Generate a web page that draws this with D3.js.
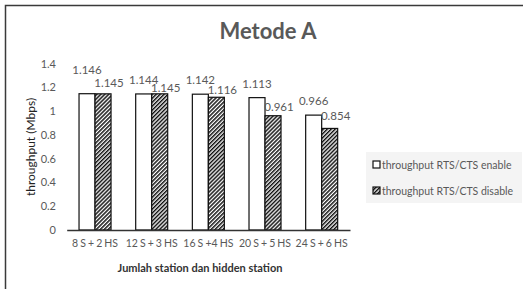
<!DOCTYPE html>
<html><head><meta charset="utf-8">
<script src="https://cdn.jsdelivr.net/npm/d3@7"></script>
<style>
html,body{margin:0;padding:0;background:#fff;}
svg{display:block;font-family:Lato,"Open Sans",sans-serif;}
</style></head>
<body><svg id="c" width="523" height="289"></svg>
<script>
const categories = ["8 S + 2 HS","12 S + 3 HS","16 S +4 HS","20 S + 5 HS","24 S + 6 HS"];
const enableValues = [1.146, 1.144, 1.142, 1.113, 0.966];
const disableValues = [1.145, 1.145, 1.116, 0.961, 0.854];
const seriesNames = ["throughput RTS/CTS enable","throughput RTS/CTS disable"];
const yTicks = [0,0.2,0.4,0.6,0.8,1,1.2,1.4];
const yTickLabels = ["0","0.2","0.4","0.6","0.8","1","1.2","1.4"];

const svg = d3.select("#c");
const grey = "#595959";

// outer frame
svg.append("rect").attr("x",5.5).attr("y",5.5).attr("width",600).attr("height",400)
  .attr("fill","#fff").attr("stroke","#3a3a3a").attr("stroke-width",1.5);

const defs = svg.append("defs");
const pat = defs.append("pattern").attr("id","hatch").attr("patternUnits","userSpaceOnUse")
  .attr("width",2.8).attr("height",2.8).attr("patternTransform","rotate(45)");
pat.append("rect").attr("width",2.8).attr("height",2.8).attr("fill","#fff");
pat.append("rect").attr("width",1.5).attr("height",2.8).attr("fill","#111");

const x0 = 66.7, x1 = 350, yTop = 63.5, yBot = 230;
const x = d3.scaleBand().domain(categories).range([x0,x1]).paddingInner(0).paddingOuter(0);
const y = d3.scaleLinear().domain([0,1.4]).range([yBot,yTop]);
const barW = 16;

// title
svg.append("text").attr("x",268).attr("y",39).attr("text-anchor","middle")
  .attr("font-size",22).attr("font-weight","bold").attr("fill",grey).text("Metode A");

// y axis labels
const yAxis = d3.axisLeft(y).tickValues(yTicks).tickFormat((d,i)=>yTickLabels[i]).tickSize(0).tickPadding(0);
const ga = svg.append("g").attr("transform","translate(56,0)").call(yAxis);
ga.select(".domain").remove();
ga.selectAll("text").attr("font-size",11).attr("fill",grey).attr("font-family","Lato,'Open Sans',sans-serif");

// y title
svg.append("text").attr("transform","translate(35,147) rotate(-90)").attr("text-anchor","middle")
  .attr("font-size",12).attr("fill","#222").text("throughput (Mbps)");

// bars
const groups = svg.append("g").selectAll("g").data(categories).join("g");
groups.append("rect")
  .attr("x",(d,i)=>x(d)+x.bandwidth()/2-barW).attr("y",(d,i)=>y(enableValues[i]))
  .attr("width",barW).attr("height",(d,i)=>yBot-y(enableValues[i]))
  .attr("fill","#fff").attr("stroke","#111").attr("stroke-width",1.2);
groups.append("rect")
  .attr("x",(d,i)=>x(d)+x.bandwidth()/2).attr("y",(d,i)=>y(disableValues[i]))
  .attr("width",barW).attr("height",(d,i)=>yBot-y(disableValues[i]))
  .attr("fill","url(#hatch)").attr("stroke","#111").attr("stroke-width",1.2);

// x axis
const xAxis = d3.axisBottom(x).tickSize(0).tickPadding(0);
const gx = svg.append("g").attr("transform",`translate(0,${yBot})`).call(xAxis);
gx.select(".domain").attr("stroke","#333").attr("stroke-width",1.3);
gx.selectAll("text").attr("font-size",10.5).attr("fill",grey).attr("dy","17px")
  .attr("word-spacing","-0.6px")
  .attr("font-family","Lato,'Open Sans',sans-serif");

// x title
svg.append("text").attr("x",200).attr("y",272).attr("text-anchor","middle")
  .attr("font-size",11).attr("font-weight","bold").attr("fill","#333").text("Jumlah station dan hidden station");

// data labels
const labEnableLift = [20,10,10,10,10];
const labDisableLift = [7,2,3,5,8];
groups.append("text")
  .attr("x",(d,i)=>x(d)+x.bandwidth()/2-barW/2)
  .attr("y",(d,i)=>y(enableValues[i])-labEnableLift[i])
  .attr("text-anchor","middle").attr("font-size",11.5).attr("fill",grey)
  .text((d,i)=>enableValues[i].toFixed(3));
groups.append("text")
  .attr("x",(d,i)=>x(d)+x.bandwidth()/2+barW/2+6)
  .attr("y",(d,i)=>y(disableValues[i])-labDisableLift[i])
  .attr("text-anchor","middle").attr("font-size",11.5).attr("fill",grey)
  .text((d,i)=>disableValues[i].toFixed(3));

// legend
const lg = svg.append("g");
lg.append("rect").attr("x",366).attr("y",152).attr("width",156).attr("height",51).attr("fill","#f4f4f4");
seriesNames.forEach((n,i)=>{
  const yy = 165 + i*26;
  lg.append("rect").attr("x",373).attr("y",yy-4).attr("width",7).attr("height",7)
    .attr("fill", i===0?"#fff":"url(#hatch)").attr("stroke","#111").attr("stroke-width",1.2);
  lg.append("text").attr("x",382).attr("y",yy+4).attr("font-size",10.5).attr("fill",grey).text(n);
});
</script></body></html>
